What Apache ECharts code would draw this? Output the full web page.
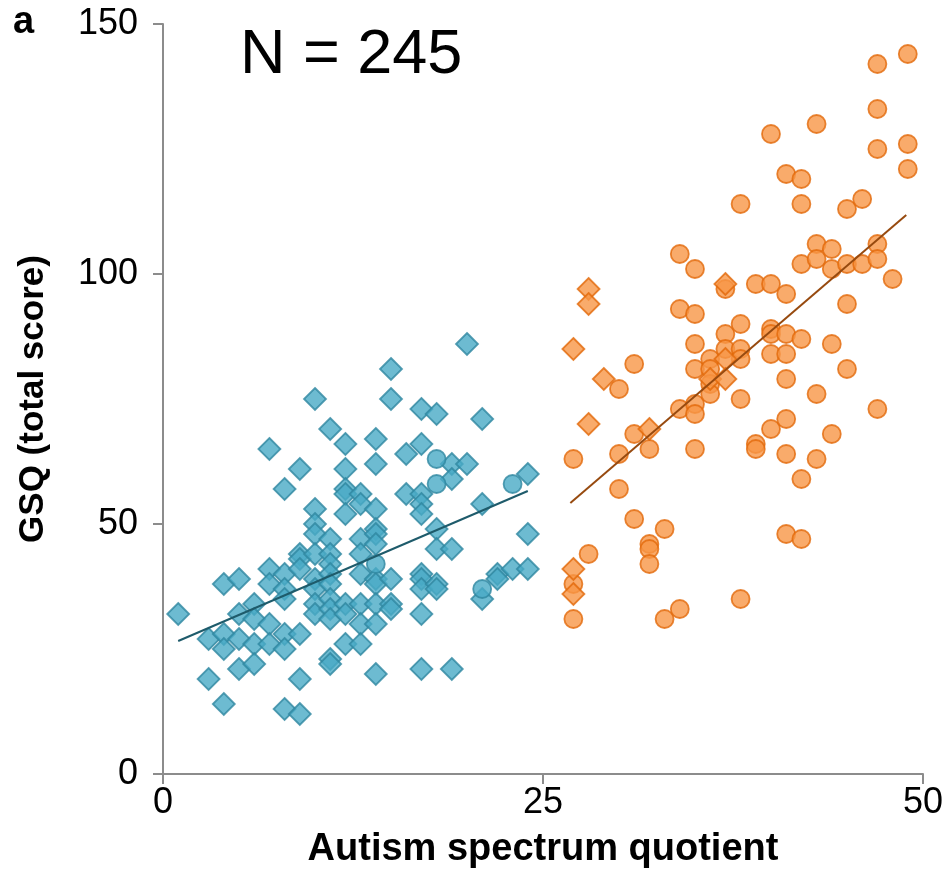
<!DOCTYPE html>
<html>
<head>
<meta charset="utf-8">
<script src="https://cdn.jsdelivr.net/npm/echarts@6/dist/echarts.min.js"></script>
<style>
  html, body { margin: 0; padding: 0; background: #fff; }
  #chart { width: 946px; height: 893px; }
</style>
</head>
<body>
<div id="chart"></div>
<script>
// AQ (x) vs GSQ (y)
const blueDiamonds = [
  [1,32],[3,27],[3,19],[4,38],[4,28],[4,25],[4,14],
  [5,39],[5,32],[5,27],[5,21],[6,34],[6,31],[6,26],[6,22],
  [7,65],[7,41],[7,38],[7,30],[7,26],
  [8,57],[8,40],[8,37],[8,35],[8,28],[8,25],[8,13],
  [9,61],[9,44],[9,43],[9,41],[9,28],[9,19],[9,12],
  [10,75],[10,53],[10,50],[10,48],[10,44],[10,39],[10,37],[10,34],[10,32],
  [11,69],[11,47],[11,44],[11,42],[11,40],[11,38],[11,35],[11,33],[11,31],[11,23],[11,22],
  [12,66],[12,61],[12,57],[12,56],[12,52],[12,34],[12,32],[12,26],
  [13,56],[13,54],[13,47],[13,44],[13,40],[13,34],[13,30],[13,26],
  [14,67],[14,62],[14,53],[14,49],[14,48],[14,46],[14,39],[14,38],[14,34],[14,30],[14,20],
  [15,81],[15,75],[15,39],[15,34],[15,33],
  [16,64],[16,56],
  [17,73],[17,66],[17,56],[17,54],[17,52],[17,40],[17,39],[17,37],[17,32],[17,21],
  [18,72],[18,49],[18,45],[18,38],[18,37],
  [19,62],[19,59],[19,45],[19,21],
  [20,86],[20,62],
  [21,71],[21,54],[21,35],
  [22,40],[22,39],[23,41],
  [24,60],[24,48],[24,41]
];
const blueCircles = [[14,42],[18,63],[18,58],[21,37],[23,58]];

const orangeCircles = [
  [27,63],[27,38],[27,31],[28,44],
  [30,77],[30,64],[30,57],[31,82],[31,68],[31,51],
  [32,65],[32,46],[32,45],[32,42],[33,49],[33,31],
  [34,104],[34,93],[34,73],[34,33],
  [35,101],[35,92],[35,86],[35,81],[35,74],[35,72],[35,65],
  [36,83],[36,81],[36,78],[36,76],
  [37,97],[37,88],[37,85],
  [38,114],[38,90],[38,85],[38,83],[38,75],[38,35],
  [39,98],[39,66],[39,65],
  [40,128],[40,98],[40,89],[40,88],[40,84],[40,69],
  [41,120],[41,96],[41,88],[41,84],[41,79],[41,71],[41,64],[41,48],
  [42,119],[42,114],[42,102],[42,87],[42,59],[42,47],
  [43,130],[43,106],[43,103],[43,76],[43,63],
  [44,105],[44,101],[44,86],[44,68],
  [45,113],[45,102],[45,94],[45,81],
  [46,115],[46,102],
  [47,142],[47,133],[47,125],[47,106],[47,103],[47,73],
  [48,99],
  [49,144],[49,126],[49,121]
];
const orangeDiamonds = [
  [27,85],[27,41],[27,36],[28,97],[28,94],[28,70],[29,79],
  [32,69],[36,79],[37,98],[37,83],[37,79]
];

// trend line end points as drawn
const blueTrend = [[1,26.6],[24,56.6]];
const orangeTrend = [[26.8,54.2],[48.9,111.8]];

const xTicks = [0, 25, 50];
const yTicks = [0, 50, 100, 150];

const chart = echarts.init(document.getElementById('chart'), null, { renderer: 'canvas' });

const axisGray = '#8C8C8C';
const font = 'Arial, "Liberation Sans", sans-serif';

const blueStyle = { color: '#48AAC5', borderColor: '#2F87A0', borderWidth: 1.8 };
const orangeStyle = { color: '#F79646', borderColor: '#E2690A', borderWidth: 1.8 };

chart.setOption({
  animation: false,
  backgroundColor: '#fff',
  grid: { left: 163, right: 18, top: 24, bottom: 119 },
  xAxis: {
    type: 'value',
    min: xTicks[0],
    max: xTicks[xTicks.length - 1],
    interval: 25,
    name: 'Autism spectrum quotient',
    nameLocation: 'middle',
    nameGap: 57,
    nameTextStyle: { fontFamily: font, fontWeight: 'bold', fontSize: 38, color: '#000' },
    axisLine: { lineStyle: { color: axisGray, width: 2 } },
    axisTick: { show: true, length: 10, lineStyle: { color: axisGray, width: 2 } },
    axisLabel: { fontFamily: font, fontSize: 36, color: '#000', margin: 11 },
    splitLine: { show: false }
  },
  yAxis: {
    type: 'value',
    min: yTicks[0],
    max: yTicks[yTicks.length - 1],
    interval: 50,
    name: 'GSQ (total score)',
    nameLocation: 'middle',
    nameGap: 112,
    nameTextStyle: { fontFamily: font, fontWeight: 'bold', fontSize: 35, color: '#000' },
    axisLine: { show: true, lineStyle: { color: axisGray, width: 2 } },
    axisTick: { show: true, length: 10, lineStyle: { color: axisGray, width: 2 } },
    axisLabel: { fontFamily: font, fontSize: 36, color: '#000', margin: 25 },
    splitLine: { show: false }
  },
  graphic: [
    { type: 'text', left: 13, top: 4, style: { text: 'a', font: 'bold 38px ' + font, fill: '#000' } },
    { type: 'text', left: 240, top: 24, style: { text: 'N = 245', font: '63px ' + font, fill: '#000' } }
  ],
  series: [
    { type: 'scatter', symbol: 'diamond', symbolSize: 22, data: blueDiamonds, itemStyle: blueStyle, z: 2 },
    { type: 'scatter', symbol: 'circle', symbolSize: 18, data: blueCircles, itemStyle: blueStyle, z: 2 },
    { type: 'scatter', symbol: 'circle', symbolSize: 18, data: orangeCircles, itemStyle: orangeStyle, z: 2 },
    { type: 'scatter', symbol: 'diamond', symbolSize: 22, data: orangeDiamonds, itemStyle: orangeStyle, z: 2 },
    { type: 'line', data: blueTrend, showSymbol: false, symbol: 'none', lineStyle: { color: '#1E5B6B', width: 2 }, z: 3 },
    { type: 'line', data: orangeTrend, showSymbol: false, symbol: 'none', lineStyle: { color: '#974A0F', width: 2 }, z: 3 }
  ]
});
</script>
</body>
</html>
